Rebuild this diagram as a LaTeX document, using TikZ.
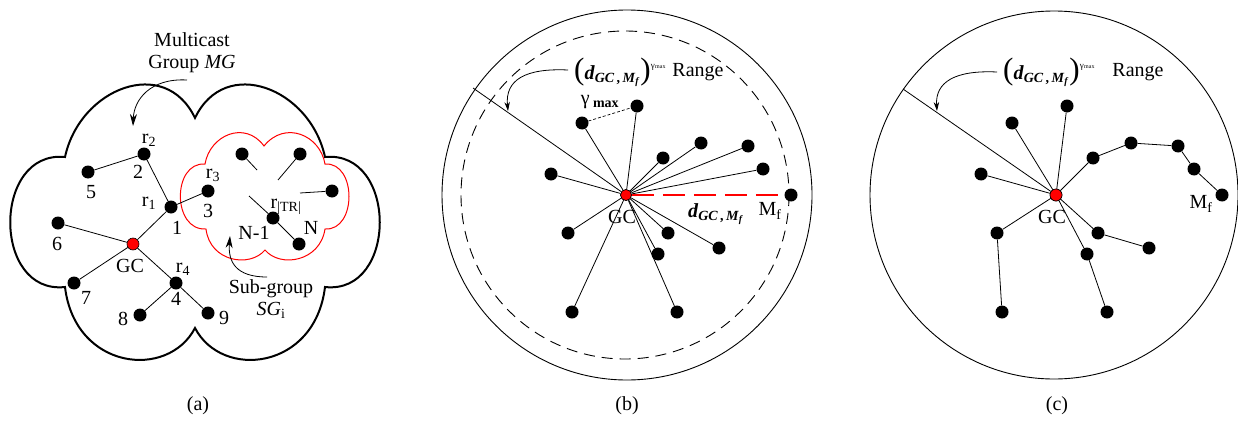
\documentclass[tikz,border=0pt]{standalone}
\usepackage{fontspec}
\setmainfont{Liberation Serif}
\usetikzlibrary{arrows.meta}
\newcommand{\dgm}{\textbf{\textit{d}}\textsubscript{\textbf{\textit{GC}\,,\,\textit{M}}\textsubscript{\textbf{\textit{f}}}}}
\newcommand{\rangelbl}{{\fontsize{31}{31}\selectfont(}\dgm{\fontsize{31}{31}\selectfont)}\raisebox{11pt}{\fontsize{9}{9}\selectfont γ\kern0.5pt\fontsize{6}{6}\selectfont max}}
\begin{document}
\begin{tikzpicture}[x=1pt,y=-1pt,
  dot/.style={circle,fill=black,inner sep=0pt,minimum size=13pt},
  gcdot/.style={circle,fill=red,draw=black,line width=0.6pt,inner sep=0pt,minimum size=12pt},
  edge/.style={line width=0.8pt},
  lbl/.style={inner sep=0pt,font=\fontsize{20}{22}\selectfont},
  ring/.style={line width=0.9pt},
  pointer/.style={line width=0.8pt,-{Stealth[length=12pt,width=7pt]}},
  spointer/.style={line width=0.8pt,-{Stealth[length=9pt,width=5.5pt]}}]
\useasboundingbox (0,0) rectangle (1238,420);

% ---------------- panel (a) ----------------
\draw[line width=2pt,line join=miter]
  (65,157) .. controls (80,88) and (165,55) .. (195,118)
  .. controls (225,55) and (310,88) .. (325,157)
  .. controls (398,150) and (398,295) .. (325,287)
  .. controls (315,370) and (222,380) .. (195,328)
  .. controls (168,380) and (75,370) .. (65,287)
  .. controls (-8,295) and (-8,150) .. cycle;
\draw[red,line width=1pt]
  (205,164) .. controls (210,135) and (245,120) .. (264,146)
  .. controls (285,120) and (320,135) .. (325,164)
  .. controls (357,162) and (357,231) .. (325,229)
  .. controls (320,262) and (280,268) .. (265,250)
  .. controls (250,268) and (210,262) .. (206,229)
  .. controls (172,231) and (172,162) .. cycle;

\node[lbl,align=center] (mgtext) at (192,53) {Multicast\\Group \textit{MG}};
\coordinate (mgstart) at (187,80);
\coordinate (mgend) at (133,126);
\draw[pointer] (mgstart) .. controls (150,78) and (134,100) .. (mgend);

\node[dot] (n2) at (144,154) {};
\node[dot] (n5) at (88,172) {};
\node[dot] (n1) at (171,207) {};
\node[dot] (n3) at (208,191) {};
\node[gcdot] (gca) at (133,244) {};
\node[dot] (n6) at (58,223) {};
\node[dot] (n7) at (74,283) {};
\node[dot] (n4) at (176,283) {};
\node[dot] (n8) at (140,315) {};
\node[dot] (n9) at (208,313) {};
\draw[edge] (n5) -- (n2) (n2) -- (n1) (n1) -- (n3) (n1) -- (gca) (n6) -- (gca)
  (n7) -- (gca) (gca) -- (n4) (n4) -- (n8) (n4) -- (n9);

\node[dot] (s1) at (242,154) {};
\node[dot] (s2) at (300,154) {};
\node[dot] (s3) at (332,191) {};
\node[dot] (sr) at (273,218) {};
\node[dot] (sn) at (299,244) {};
\coordinate (s1e) at (257,170);
\coordinate (s2e) at (278,180);
\coordinate (s3e) at (300,193);
\coordinate (sre) at (249,196);
\draw[edge] (s1) -- (s1e) (s2) -- (s2e) (s3) -- (s3e) (sre) -- (sr) (sr) -- (sn);

\node[lbl] (lr2) at (149,140) {r\textsubscript{2}};
\node[lbl] (l2) at (138,172) {2};
\node[lbl] (l5) at (91,192) {5};
\node[lbl] (lr1) at (149,203) {r\textsubscript{1}};
\node[lbl] (l1) at (177,228) {1};
\node[lbl] (lr3) at (213,175) {r\textsubscript{3}};
\node[lbl] (l3) at (208,211) {3};
\node[lbl] (lgca) at (130,266) {GC};
\node[lbl] (l6) at (57,244) {6};
\node[lbl] (l7) at (86,298) {7};
\node[lbl] (lr4) at (183,269) {r\textsubscript{4}};
\node[lbl] (l4) at (176,299) {4};
\node[lbl] (l8) at (123,319) {8};
\node[lbl] (l9) at (224,318) {9};
\node[lbl] (lrtr) at (286,207) {r\textsubscript{|TR|}};
\node[lbl] (lnm1) at (254,233) {N-1};
\node[lbl] (ln) at (311,228) {N};

\node[lbl,align=center] (sgtext) at (271,299) {Sub-group\\\textit{SG}\textsubscript{i}};
\coordinate (sgstart) at (267,277);
\coordinate (sgend) at (230,236);
\draw[pointer] (sgstart) .. controls (236,277) and (228,262) .. (sgend);

\node[lbl] (capa) at (198,406) {(a)};

% ---------------- panel (b) ----------------
\coordinate (bc) at (627,195);
\draw[ring] (bc) circle[radius=185];
\draw[ring,dash pattern=on 11pt off 7pt] (625,195) circle[radius=164];
\node[gcdot,minimum size=11pt] (gcb) at (626,195) {};
\coordinate (brim) at (473,88);
\draw[edge] (gcb) -- (brim);
\node[dot] (b1) at (637,106) {};
\node[dot] (b2) at (582,123) {};
\node[dot] (b3) at (701,143) {};
\node[dot] (b4) at (748,146) {};
\node[dot] (b5) at (663,158) {};
\node[dot] (b6) at (763,169) {};
\node[dot] (b7) at (551,174) {};
\node[dot] (bmf) at (791,195) {};
\node[dot] (b9) at (568,233) {};
\node[dot] (b10) at (668,233) {};
\node[dot] (b11) at (719,248) {};
\node[dot] (b12) at (658,254) {};
\node[dot] (b13) at (572,312) {};
\node[dot] (b14) at (677,312) {};
\foreach \n in {b1,b2,b3,b4,b5,b6,b7,b9,b10,b11,b12,b13,b14}
  \draw[edge] (gcb) -- (\n);
\draw[red,line width=2.5pt,dash pattern=on 22pt off 9pt] (gcb) -- (bmf);
\draw[line width=0.7pt,dash pattern=on 3pt off 2pt] (b2) -- (b1);
\node[gcdot,minimum size=11pt] at (626,195) {};

\node[lbl,anchor=west] (brl) at (574,72) {\rangelbl};
\node[lbl] (brange) at (698,72) {Range};
\coordinate (barrs) at (568,70);
\coordinate (barre) at (508,111);
\draw[spointer] (barrs) .. controls (525,68) and (505,80) .. (barre);
\node[lbl] (bgam) at (600,102) {γ\,\textsubscript{\textbf{max}}};
\node[lbl] (lgcb) at (622,217) {GC};
\node[lbl] (lbmf) at (770,211) {M\textsubscript{f}};
\node[lbl] (lbd) at (716,214) {\dgm};
\node[lbl] (capb) at (627,406) {(b)};

% ---------------- panel (c) ----------------
\coordinate (cc) at (1054,195);
\draw[ring] (cc) circle[radius=184];
\node[gcdot] (gcc) at (1056,195) {};
\coordinate (crim) at (903,89);
\draw[edge] (gcc) -- (crim);
\node[dot] (ca) at (1067,106) {};
\node[dot] (cb) at (1012,123) {};
\node[dot] (cc1) at (981,174) {};
\node[dot] (cd) at (1093,158) {};
\node[dot] (ce) at (1131,143) {};
\node[dot] (cf) at (1178,146) {};
\node[dot] (cg) at (1194,169) {};
\node[dot] (cmf) at (1222,195) {};
\node[dot] (ci) at (997,233) {};
\node[dot] (cj) at (1002,312) {};
\node[dot] (ck) at (1098,233) {};
\node[dot] (cl) at (1149,248) {};
\node[dot] (cm) at (1087,254) {};
\node[dot] (cn) at (1107,312) {};
\draw[edge] (gcc) -- (ca) (gcc) -- (cb) (gcc) -- (cc1) (gcc) -- (cd) (cd) -- (ce)
  (ce) -- (cf) (cf) -- (cg) (cg) -- (cmf) (gcc) -- (ci) (ci) -- (cj)
  (gcc) -- (ck) (ck) -- (cl) (gcc) -- (cm) (cm) -- (cn);
\node[gcdot] at (1056,195) {};

\node[lbl,anchor=west] (crl) at (1003,72) {\rangelbl};
\node[lbl] (crange) at (1138,72) {Range};
\coordinate (carrs) at (997,72);
\coordinate (carre) at (937,111);
\draw[spointer] (carrs) .. controls (955,70) and (935,82) .. (carre);
\node[lbl] (lgcc) at (1052,217) {GC};
\node[lbl] (lcmf) at (1201,204) {M\textsubscript{f}};
\node[lbl] (capc) at (1057,406) {(c)};
\end{tikzpicture}
\end{document}
